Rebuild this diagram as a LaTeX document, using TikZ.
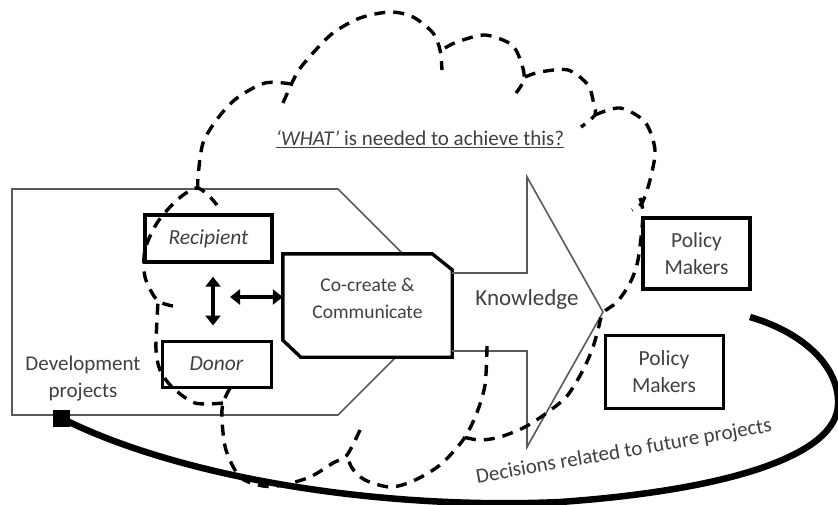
\documentclass[tikz,border=0pt]{standalone}
\usepackage{fontspec}
\setmainfont{Carlito}
\usetikzlibrary{arrows.meta,calc}

\begin{document}
\begin{tikzpicture}[x=1pt,y=-1pt,
    txt/.style={text=black!75,font=\fontsize{21.5}{27}\selectfont,align=center},
    box/.style={draw=black,line width=3.4pt,inner sep=0pt},
    thinline/.style={draw=black!65,line width=1.6pt},
    cloud/.style={line width=3.4pt,dash pattern=on 11pt off 8pt},
    dbl/.style={line width=4.6pt,{Triangle[width=15pt,length=10pt]}-{Triangle[width=15pt,length=10pt]}},
    loopline/.style={line width=6.5pt}]
\useasboundingbox (0,0) rectangle (838,504);

% development projects
\draw[thinline] (12,189) -- (338,189) -- (451,302) -- (338,415) -- (12,415) -- cycle;
\node[txt,font=\fontsize{21}{27}\selectfont] (dev) at (83,379) {Development\\projects};

% co-create box
\node[minimum width=169pt,minimum height=103pt,inner sep=0pt] (cocreate) at (367.5,305.5) {};
\filldraw[box,fill=white] (cocreate.north west) -- ([xshift=-20pt]cocreate.north east)
    -- ([yshift=-16pt]cocreate.north east) -- (cocreate.south east)
    -- ([xshift=18pt]cocreate.south west) -- ([yshift=17pt]cocreate.south west) -- cycle;
\node[txt,font=\fontsize{19.5}{27}\selectfont] (cctext) at ([yshift=7pt]cocreate.center) {Co-create \&\\Communicate};

% knowledge arrow
\draw[thinline] (452,273) -- (527,273) -- (527,177) -- (603,312) -- (527,447) -- (527,351) -- (452,351);
\node[txt,font=\fontsize{23}{27}\selectfont] (know) at (527,299) {Knowledge};

% recipient and donor
\node[box,txt,minimum width=127pt,minimum height=47pt] (recip) at (208.5,238.5) {\textit{Recipient}};
\node[box,txt,line width=3pt,minimum width=109pt,minimum height=46pt] (donor) at (216.5,364) {\textit{Donor}};
\draw[dbl,shorten <=13pt,shorten >=14pt] ([xshift=4.5pt]recip.south) -- ([xshift=-3.5pt]donor.north);
\coordinate (hstart) at (230,297);
\draw[dbl] (hstart) -- (hstart -| cocreate.west);

% policy makers
\node[box,txt,minimum width=107pt,minimum height=71pt] (pmA) at (696.5,253.5) {Policy\\Makers};
\node[box,txt,line width=3pt,minimum width=118pt,minimum height=73pt] (pmB) at (664,371.5) {Policy\\Makers};

% question
\node[txt,font=\fontsize{21}{27}\selectfont] (what) at (420,139) {\underline{\textit{‘WHAT’} is needed to achieve this?}};

% feedback loop
\node[fill=black,minimum size=17pt,inner sep=0pt] (sq) at (61,418) {};
\coordinate (loopend) at (750,317);
\draw[loopline] (loopend) .. controls (805,333) and (840,368) .. (838,405)
    .. controls (836,455) and (730,490) .. (560,502)
    .. controls (380,510) and (180,478) .. (sq.center);
\node[txt,rotate=10,font=\fontsize{21}{27}\selectfont] (decide) at (624,452) {Decisions related to future projects};

% cloud
\draw[cloud] plot[smooth] coordinates {(198,190) (198,177) (203,143) (218,118) (237,98) (265,83) (292,84)};
\draw[cloud] plot[smooth] coordinates {(283,103) (297,73) (313,53) (333,33) (360,18) (390,12) (413,17) (433,33) (440,50) (442,70)};
\draw[cloud] plot[smooth] coordinates {(445,48) (457,42) (485,35) (512,45) (522,65) (524,80) (516,93)};
\draw[cloud] plot[smooth] coordinates {(525,77) (540,72) (568,70) (588,85) (594,105) (595,115) (581,127)};
\draw[cloud] plot[smooth] coordinates {(595,115) (620,108) (645,122) (655,150) (650,180) (642,203) (632,210)};
\draw[cloud] plot[smooth] coordinates {(640,198) (643,215) (638,260) (630,283) (617,302) (603,313) (598,330) (592,350) (582,372) (567,396) (548,412) (525,427) (500,437) (480,440) (463,437)};
\draw[cloud] plot[smooth] coordinates {(487,346) (485,385) (476,415) (463,440) (440,465) (413,481) (390,487) (365,480) (352,468) (347,455)};
\draw[cloud] plot[smooth] coordinates {(360,430) (347,455) (333,463) (310,477) (283,485) (263,486) (240,477) (226,450) (222,420) (223,403) (230,388)};
\draw[cloud] plot[smooth] coordinates {(223,403) (195,403) (172,387) (160,370) (156,350) (157,320) (158,302)};
\draw[cloud] plot[smooth] coordinates {(173,306) (157,300) (145,277) (145,250) (157,223) (177,200) (196,188) (208,195) (217,205)};
\end{tikzpicture}
\end{document}
